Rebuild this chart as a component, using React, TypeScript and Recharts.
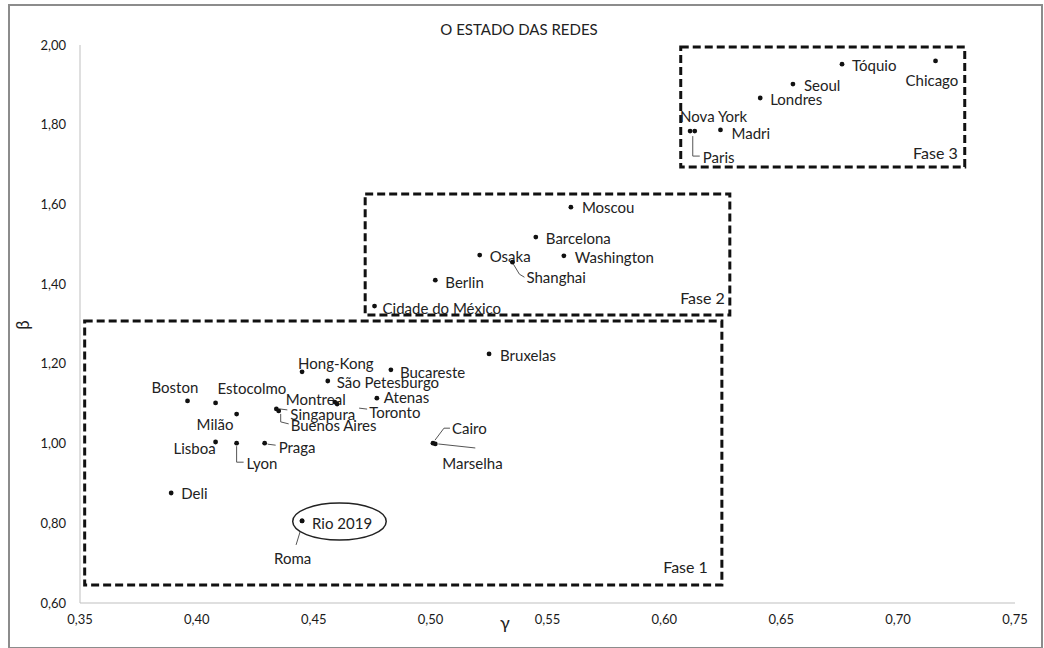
import React from 'react';
import { ScatterChart, Scatter, XAxis, YAxis, ReferenceArea } from 'recharts';

// cities and their (gamma, beta) values
const cities = [
  'Tóquio', 'Chicago', 'Seoul', 'Londres', 'Madri', 'Nova York', 'Paris',
  'Moscou', 'Barcelona', 'Osaka', 'Washington', 'Shanghai', 'Berlin', 'Cidade do México',
  'Bruxelas', 'Hong-Kong', 'Bucareste', 'São Petesburgo', 'Boston', 'Estocolmo', 'Milão',
  'Montreal', 'Toronto', 'Atenas', 'Singapura', 'Buenos Aires', 'Lisboa', 'Lyon', 'Praga',
  'Cairo', 'Marselha', 'Deli', 'Rio 2019', 'Roma',
];
const gamma = [
  0.676, 0.716, 0.655, 0.641, 0.624, 0.611, 0.613,
  0.560, 0.545, 0.521, 0.557, 0.535, 0.502, 0.476,
  0.525, 0.445, 0.483, 0.456, 0.396, 0.408, 0.417,
  0.459, 0.460, 0.477, 0.434, 0.435, 0.408, 0.417, 0.429,
  0.501, 0.502, 0.389, 0.445, 0.445,
];
const beta = [
  1.952, 1.960, 1.902, 1.867, 1.787, 1.784, 1.784,
  1.593, 1.518, 1.473, 1.471, 1.455, 1.410, 1.345,
  1.225, 1.180, 1.185, 1.157, 1.107, 1.102, 1.074,
  1.104, 1.099, 1.114, 1.087, 1.082, 1.004, 1.001, 1.001,
  1.001, 0.999, 0.876, 0.806, 0.806,
];

const phaseNames = ['Fase 1', 'Fase 2', 'Fase 3'];
const phaseGammaFrom = [0.352, 0.472, 0.607];
const phaseGammaTo = [0.6246, 0.628, 0.7285];
const phaseBetaFrom = [0.645, 1.3225, 1.694];
const phaseBetaTo = [1.3075, 1.626, 1.995];

// ring drawn round Rio 2019
const ringGamma = [0.441, 0.481];
const ringBeta = [0.758, 0.851];

const xTicks = [0.35, 0.4, 0.45, 0.5, 0.55, 0.6, 0.65, 0.7, 0.75];
const yTicks = [0.6, 0.8, 1.0, 1.2, 1.4, 1.6, 1.8, 2.0];

const data = cities.map((city, i) => ({ city, gamma: gamma[i], beta: beta[i] }));

// where each name sits next to its dot (px), plus leader lines
type Lay = { dx: number; dy: number; leader?: number[][] };
const labelLayout: Record<string, Lay> = {
  'Tóquio': { dx: 10, dy: 1 },
  'Chicago': { dx: -30, dy: 19 },
  'Seoul': { dx: 11, dy: 1 },
  'Londres': { dx: 10, dy: 1 },
  'Madri': { dx: 11, dy: 3 },
  'Nova York': { dx: -10, dy: -15 },
  'Paris': { dx: 8, dy: 26, leader: [[-2, 5], [-2, 25], [5, 25]] },
  'Moscou': { dx: 11, dy: 0 },
  'Barcelona': { dx: 10, dy: 1 },
  'Osaka': { dx: 10, dy: 1 },
  'Washington': { dx: 11, dy: 1 },
  'Shanghai': { dx: 14, dy: 15, leader: [[1, 2], [7, 12], [12, 15]] },
  'Berlin': { dx: 10, dy: 2 },
  'Cidade do México': { dx: 8, dy: 2 },
  'Bruxelas': { dx: 11, dy: 1 },
  'Hong-Kong': { dx: -4, dy: -9 },
  'Bucareste': { dx: 9, dy: 2 },
  'São Petesburgo': { dx: 9, dy: 1 },
  'Boston': { dx: -36, dy: -14 },
  'Estocolmo': { dx: 2, dy: -15 },
  'Milão': { dx: -40, dy: 10 },
  'Montreal': { dx: -49, dy: -3 },
  'Toronto': { dx: 32, dy: 8, leader: [[22, 4], [30, 5]] },
  'Atenas': { dx: 7, dy: -1 },
  'Singapura': { dx: 14, dy: 5, leader: [[3, 0], [11, 1]] },
  'Buenos Aires': { dx: 12, dy: 14, leader: [[2, 3], [2, 11], [10, 13]] },
  'Lisboa': { dx: -42, dy: 6 },
  'Lyon': { dx: 10, dy: 20, leader: [[0, 3], [0, 19], [7, 19]] },
  'Praga': { dx: 14, dy: 4, leader: [[3, 1], [11, 2]] },
  'Cairo': { dx: 19, dy: -15, leader: [[2, -3], [11, -15], [17, -15]] },
  'Marselha': { dx: 7, dy: 19, leader: [[3, 0], [40, 4]] },
  'Deli': { dx: 10, dy: 0 },
  'Rio 2019': { dx: 10, dy: 2 },
  'Roma': { dx: -28, dy: 37, leader: [[-2, 11], [-6, 24]] },
};

const phaseLabelInset = [[14, 19], [5, 18], [7, 14]];

const FONT = 'Lato, "Open Sans", sans-serif';
const fmt = (v: number) => v.toFixed(2).replace('.', ',');

const CityDot = (props: any) => {
  const { cx, cy, payload } = props;
  const l = labelLayout[payload.city] || { dx: 10, dy: 0 };
  return (
    <g>
      {l.leader && (
        <polyline
          points={l.leader.map(([a, b]) => `${cx + a},${cy + b}`).join(' ')}
          fill="none"
          stroke="#555"
          strokeWidth={1}
        />
      )}
      <circle cx={cx} cy={cy} r={2.4} fill="#111" />
      <text x={cx + l.dx} y={cy + l.dy} dominantBaseline="central" fontSize={15} fill="#222" fontFamily={FONT}>
        {payload.city}
      </text>
    </g>
  );
};

const phaseShape = (i: number) => (props: any) => {
  const { x, y, width, height } = props;
  return (
    <g>
      <rect x={x} y={y} width={width} height={height} fill="none" stroke="#111" strokeWidth={3} strokeDasharray="8 4" />
      <text
        x={x + width - phaseLabelInset[i][0]}
        y={y + height - phaseLabelInset[i][1]}
        textAnchor="end"
        dominantBaseline="central"
        fontSize={16}
        fill="#222"
        fontFamily={FONT}
      >
        {phaseNames[i]}
      </text>
    </g>
  );
};

const ringShape = (props: any) => {
  const { x, y, width, height } = props;
  return <ellipse cx={x + width / 2} cy={y + height / 2} rx={width / 2} ry={height / 2} fill="none" stroke="#222" strokeWidth={1.5} />;
};

export default function App() {
  return (
    <div style={{ position: 'absolute', left: 0, top: 0, width: 1044, height: 648, background: '#fff', fontFamily: FONT }}>
      <div style={{ position: 'absolute', left: 8, top: 4, width: 1031, height: 641, border: '2px solid #8c8c8c' }} />
      <ScatterChart width={1044} height={648} margin={{ top: 45, right: 29, bottom: 5, left: 20 }}>
        <XAxis
          type="number"
          dataKey="gamma"
          domain={[0.35, 0.75]}
          ticks={xTicks}
          tickFormatter={fmt}
          axisLine={{ stroke: '#bfbfbf' }}
          tickLine={false}
          tickSize={0}
          tickMargin={12}
          height={40}
          tick={{ fontSize: 13, fill: '#1a1a1a', fontFamily: FONT }}
        />
        <YAxis
          type="number"
          dataKey="beta"
          domain={[0.6, 2.0]}
          ticks={yTicks}
          tickFormatter={fmt}
          axisLine={{ stroke: '#bfbfbf' }}
          tickLine={false}
          tickSize={0}
          tickMargin={14}
          width={60}
          tick={{ fontSize: 13, fill: '#1a1a1a', fontFamily: FONT }}
        />
        {phaseNames.map((name, i) => (
          <ReferenceArea
            key={name}
            x1={phaseGammaFrom[i]}
            x2={phaseGammaTo[i]}
            y1={phaseBetaFrom[i]}
            y2={phaseBetaTo[i]}
            shape={phaseShape(i)}
          />
        ))}
        <ReferenceArea x1={ringGamma[0]} x2={ringGamma[1]} y1={ringBeta[0]} y2={ringBeta[1]} shape={ringShape} />
        <Scatter data={data} shape={CityDot} isAnimationActive={false} />
      </ScatterChart>
      <svg width={1044} height={648} style={{ position: 'absolute', left: 0, top: 0, pointerEvents: 'none' }}>
        <text x={519} y={29} textAnchor="middle" dominantBaseline="central" fontSize={15} fill="#222" fontFamily={FONT}>
          O ESTADO DAS REDES
        </text>
        <text x={22} y={325} textAnchor="middle" dominantBaseline="central" fontSize={17} fill="#222" fontFamily={FONT} transform="rotate(-90 22 325)">
          β
        </text>
        <text x={505} y={622} textAnchor="middle" dominantBaseline="central" fontSize={18} fill="#222" fontFamily={FONT}>
          γ
        </text>
      </svg>
    </div>
  );
}
